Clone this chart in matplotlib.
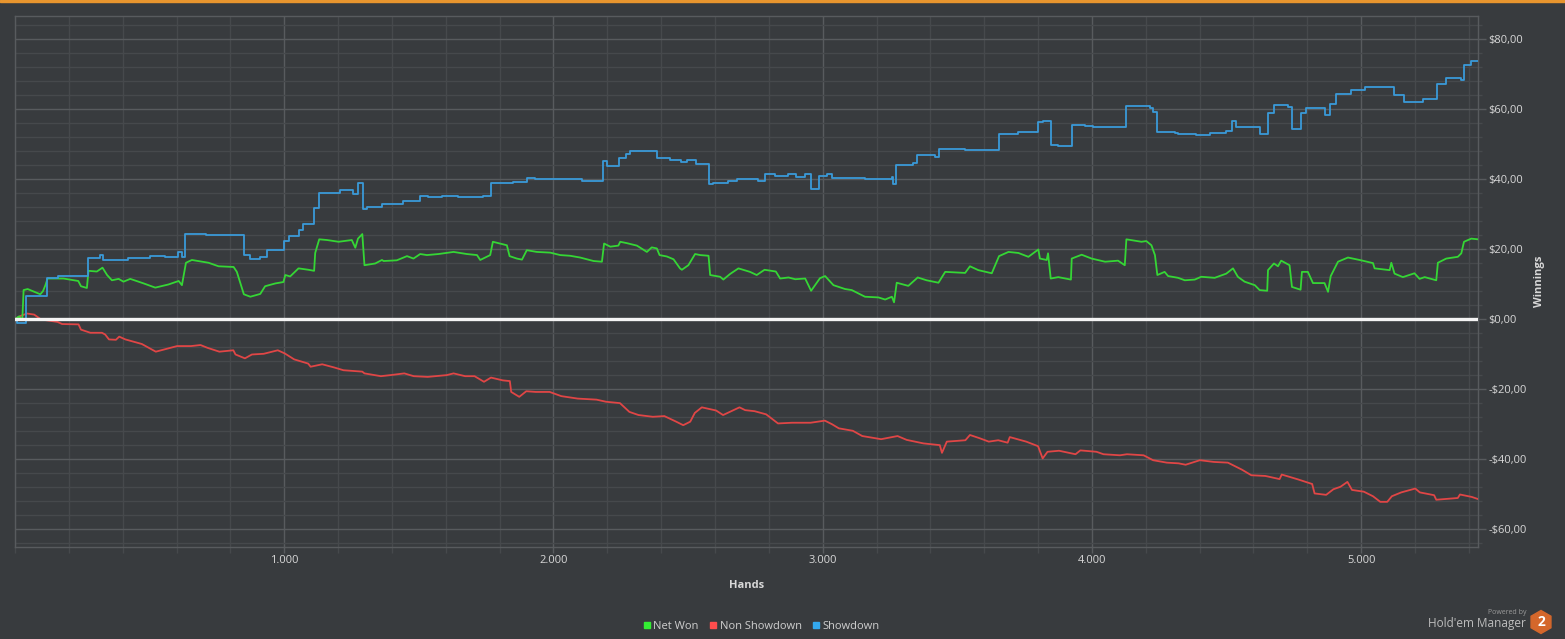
"""Hold'em Manager style winnings graph"""
import matplotlib
matplotlib.use("Agg")
import matplotlib.pyplot as plt
from matplotlib.ticker import FixedLocator, MultipleLocator, FuncFormatter
from matplotlib.lines import Line2D
from matplotlib.patches import RegularPolygon, Rectangle

plt.rcParams["font.family"] = ["Open Sans", "DejaVu Sans"]

# ---- data: hands played vs winnings ($) ----
showdown_hands = [0, 9, 42, 120, 161, 272, 317, 328, 421, 502, 558, 607, 620, 632, 709,
                  850, 874, 911, 936, 999, 1019, 1056, 1071, 1111, 1130, 1208, 1256, 1274,
                  1294, 1308, 1363, 1442, 1505, 1535, 1586, 1646, 1739, 1769, 1850, 1901,
                  1932, 2105, 2183, 2198, 2244, 2270, 2285, 2384, 2433, 2474, 2496, 2530,
                  2579, 2593, 2649, 2681, 2759, 2784, 2823, 2872, 2900, 2935, 2957, 2987,
                  3015, 3036, 3157, 3258, 3261, 3271, 3335, 3352, 3417, 3433, 3529, 3655,
                  3727, 3801, 3818, 3847, 3873, 3925, 3974, 4004, 4128, 4215, 4227, 4243,
                  4307, 4320, 4388, 4437, 4499, 4521, 4536, 4623, 4654, 4675, 4728, 4743,
                  4775, 4794, 4867, 4885, 4908, 4963, 5013, 5122, 5158, 5230, 5283, 5316,
                  5370, 5382, 5407, 5434]
showdown_won = [0, -1, 6.7, 11.8, 12.4, 17.6, 18.2, 16.9, 17.5, 18, 17.8, 19.1, 17.8, 24.2,
                23.9, 18.2, 17.2, 17.7, 19.7, 22.3, 23.7, 25.6, 27.1, 31.8, 35.9, 37.0,
                35.7, 38.8, 31.6, 32.0, 32.9, 33.7, 35.1, 34.8, 35.1, 34.8, 35.1, 39.0,
                39.2, 40.2, 39.9, 39.6, 45.1, 43.7, 46.1, 47.3, 47.9, 45.9, 45.6, 44.8,
                45.6, 44.3, 38.6, 39.0, 39.5, 39.9, 39.4, 41.4, 41.0, 41.4, 40.7, 41.4,
                37.3, 41.0, 41.4, 40.2, 39.9, 40.5, 38.6, 43.9, 44.7, 46.8, 46.2, 48.5,
                48.2, 53.0, 53.5, 56.2, 56.7, 49.7, 49.4, 55.5, 55.1, 54.8, 60.8, 60.3,
                59.1, 53.4, 53.1, 52.8, 52.5, 53.1, 53.8, 56.5, 54.8, 52.8, 58.8, 61.1,
                60.6, 54.4, 58.8, 60.2, 58.2, 61.6, 64.3, 65.6, 66.2, 64.0, 61.9, 62.8,
                67.3, 68.8, 68.3, 72.6, 73.8, 73.8]

net_hands = [0, 15, 27, 32, 47, 94, 104, 113, 121, 180, 235, 245, 267, 273, 304, 325, 342,
             360, 385, 403, 428, 478, 521, 570, 608, 620, 635, 657, 719, 756, 812, 824,
             850, 874, 911, 929, 967, 997, 1004, 1022, 1053, 1090, 1111, 1115, 1130, 1159,
             1202, 1251, 1264, 1274, 1290, 1298, 1338, 1363, 1369, 1418, 1456, 1480,
             1505, 1530, 1573, 1629, 1678, 1716, 1728, 1765, 1775, 1796, 1827, 1837,
             1864, 1883, 1901, 1938, 1988, 2025, 2062, 2099, 2149, 2180, 2188, 2211,
             2241, 2248, 2273, 2310, 2347, 2365, 2384, 2394, 2421, 2446, 2470, 2477,
             2501, 2526, 2545, 2576, 2582, 2619, 2631, 2656, 2687, 2730, 2755, 2784,
             2826, 2842, 2873, 2898, 2935, 2957, 2990, 3009, 3040, 3083, 3108, 3157,
             3207, 3232, 3257, 3265, 3275, 3318, 3353, 3386, 3430, 3455, 3529, 3547,
             3578, 3628, 3655, 3690, 3727, 3764, 3801, 3807, 3832, 3837, 3847, 3875,
             3922, 3925, 3962, 3999, 4049, 4097, 4122, 4128, 4184, 4202, 4221, 4234,
             4243, 4270, 4283, 4320, 4345, 4382, 4406, 4456, 4499, 4524, 4542, 4567,
             4605, 4623, 4651, 4654, 4676, 4691, 4703, 4734, 4743, 4775, 4780, 4802,
             4821, 4864, 4877, 4887, 4914, 4951, 5000, 5044, 5050, 5106, 5112, 5124,
             5155, 5198, 5217, 5236, 5279, 5285, 5316, 5359, 5372, 5382, 5409, 5434]
net_won = [0, 0.8, -0.3, 8.3, 8.6, 7.1, 8.0, 9.7, 11.6, 11.6, 10.9, 9.4, 8.9, 13.8, 13.6,
           14.7, 12.6, 11.1, 11.5, 10.7, 11.5, 10.2, 9.0, 9.9, 10.9, 9.7, 16.1, 16.9,
           16.1, 15.1, 14.9, 13.5, 7.1, 6.4, 7.2, 9.4, 10.2, 10.6, 12.6, 12.2, 14.5, 14.1,
           13.8, 18.9, 22.8, 22.6, 22.1, 22.6, 20.4, 23.0, 24.3, 15.4, 15.9, 16.9, 16.6,
           16.8, 18.0, 17.3, 18.6, 18.3, 18.6, 19.2, 18.6, 18.3, 16.9, 18.3, 22.1, 21.7,
           21.1, 18.0, 17.3, 17.0, 19.7, 19.2, 19.0, 18.3, 18.1, 17.6, 16.6, 16.4, 21.6,
           20.7, 21.0, 22.1, 21.7, 21.0, 19.2, 20.5, 20.2, 18.3, 17.9, 17.1, 14.5, 14.1,
           15.4, 18.6, 18.3, 18.1, 12.6, 12.1, 11.3, 12.9, 14.5, 13.5, 12.6, 14.1, 13.6,
           11.6, 11.9, 11.4, 11.6, 8.1, 11.7, 12.3, 9.7, 8.6, 8.3, 6.4, 6.2, 5.6, 6.4,
           4.8, 10.4, 9.5, 11.9, 11.1, 10.4, 13.5, 13.2, 15.1, 14.0, 13.1, 18.0, 19.2,
           18.9, 17.8, 19.9, 17.3, 16.9, 18.8, 11.6, 12.0, 11.3, 17.3, 18.4, 17.3, 16.4,
           16.7, 15.4, 22.8, 22.1, 22.3, 21.1, 18.3, 12.6, 13.5, 12.3, 11.8, 11.1, 11.3,
           12.1, 11.8, 13.0, 14.5, 12.1, 10.7, 9.7, 8.3, 8.1, 14.0, 15.9, 15.1, 16.7,
           15.4, 9.2, 8.4, 13.5, 13.5, 10.3, 10.3, 7.8, 12.3, 16.4, 17.6, 16.8, 16.0,
           14.5, 14.0, 16.1, 13.0, 12.0, 13.1, 11.5, 12.0, 11.1, 16.1, 17.3, 17.8, 18.8,
           22.1, 23.0, 22.8]

nonsd_hands = [0, 20, 45, 71, 97, 158, 175, 236, 245, 280, 323, 335, 349, 375, 387, 410,
               471, 523, 558, 602, 654, 689, 715, 759, 811, 819, 854, 880, 924, 976, 1002,
               1037, 1089, 1098, 1141, 1185, 1220, 1290, 1298, 1359, 1394, 1446, 1481,
               1533, 1603, 1629, 1672, 1707, 1742, 1768, 1812, 1838, 1843, 1873, 1899,
               1934, 1986, 2029, 2090, 2160, 2195, 2247, 2282, 2316, 2369, 2412, 2456,
               2482, 2508, 2525, 2551, 2604, 2630, 2691, 2712, 2747, 2790, 2834, 2886,
               2955, 3008, 3034, 3060, 3112, 3147, 3217, 3278, 3312, 3374, 3435, 3443,
               3461, 3530, 3547, 3582, 3617, 3652, 3687, 3695, 3756, 3800, 3817, 3835,
               3878, 3939, 3957, 4017, 4043, 4104, 4130, 4192, 4227, 4278, 4322, 4348,
               4401, 4453, 4505, 4557, 4592, 4644, 4697, 4705, 4766, 4818, 4827, 4870,
               4897, 4923, 4949, 4966, 5010, 5044, 5071, 5097, 5114, 5149, 5201, 5218,
               5271, 5279, 5359, 5367, 5411, 5434]
nonsd_won = [0.0, 0.9, 1.6, 1.3, -0.1, -0.8, -1.4, -1.5, -3.0, -3.9, -3.9, -4.4, -5.8, -5.9,
             -5.0, -5.8, -7.1, -9.3, -8.6, -7.7, -7.7, -7.4, -8.2, -9.3, -8.9, -10.1,
             -11.2, -10.1, -9.9, -8.9, -9.8, -11.5, -12.7, -13.6, -12.9, -13.8, -14.6,
             -15.0, -15.5, -16.3, -16.0, -15.5, -16.3, -16.5, -16.0, -15.5, -16.3, -16.3,
             -17.9, -16.7, -17.5, -17.7, -20.8, -22.2, -20.6, -20.8, -20.8, -22.0, -22.7,
             -23.0, -23.6, -24.0, -26.5, -27.4, -27.9, -27.7, -29.3, -30.3, -29.3, -26.8,
             -25.2, -26.1, -27.4, -25.2, -26.0, -26.3, -27.2, -29.8, -29.6, -29.6, -29.0,
             -30.0, -31.2, -31.9, -33.4, -34.3, -33.4, -34.5, -35.5, -36.0, -38.2, -35.0,
             -34.6, -33.1, -34.0, -35.0, -34.6, -35.3, -33.7, -35.0, -36.3, -39.8, -37.9,
             -37.6, -38.6, -37.5, -37.9, -38.6, -38.9, -38.6, -38.9, -40.3, -41.0, -41.2,
             -41.6, -40.3, -40.8, -41.0, -43.0, -44.6, -44.8, -45.7, -44.4, -45.8, -47.1,
             -49.8, -50.2, -48.6, -47.9, -46.5, -48.8, -49.3, -50.6, -52.2, -52.2, -50.6,
             -49.5, -48.4, -49.5, -50.3, -51.6, -51.1, -50.1, -50.8, -51.4]

series_names = ["Net Won", "Non Showdown", "Showdown"]
series_colors = ["#35d635", "#e04646", "#3a9ad8"]
legend_colors = ["#33ee33", "#ff4d4d", "#33a8ee"]

BG = "#383b3e"
GRID_MAJOR = "#585b5e"
GRID_MINOR = "#46494c"
TEXT = "#d8d8d8"

fig = plt.figure(figsize=(15.65, 6.39), dpi=100, facecolor=BG)
ax = fig.add_axes([15 / 1565, 92 / 639, 1463 / 1565, 531 / 639])
ax.set_facecolor(BG)

ax.plot(nonsd_hands, nonsd_won, color=series_colors[1], lw=1.3, zorder=3)
ax.plot(net_hands, net_won, color=series_colors[0], lw=1.3, zorder=4)
ax.plot(showdown_hands, showdown_won, color=series_colors[2], lw=1.3,
        drawstyle="steps-post", zorder=5)
ax.axhline(0, color="#f4f4f4", lw=2.4, zorder=6)

ax.set_xlim(0, 5434)
ax.set_ylim(-65.1, 86.6)

ax.xaxis.set_major_locator(FixedLocator([1000, 2000, 3000, 4000, 5000]))
ax.xaxis.set_minor_locator(MultipleLocator(200))
ax.yaxis.set_major_locator(MultipleLocator(20))
ax.yaxis.set_minor_locator(MultipleLocator(4))
ax.xaxis.set_major_formatter(FuncFormatter(lambda v, p: f"{int(v):,}".replace(",", ".")))


def money(v, p):
    s = f"{abs(v):.2f}".replace(".", ",")
    return ("-$" if v < 0 else "$") + s


ax.yaxis.set_major_formatter(FuncFormatter(money))
ax.yaxis.tick_right()
ax.yaxis.set_label_position("right")

ax.grid(which="major", color=GRID_MAJOR, lw=1.0, zorder=0)
ax.grid(which="minor", color=GRID_MINOR, lw=1.0, zorder=0)
ax.set_axisbelow(True)
for sp in ax.spines.values():
    sp.set_color(GRID_MAJOR)
    sp.set_linewidth(1.0)

ax.tick_params(axis="y", which="major", length=6, width=1, color=GRID_MAJOR,
               labelcolor=TEXT, labelsize=8, pad=1.5)
ax.tick_params(axis="y", which="minor", length=3, width=1, color=GRID_MINOR)
ax.tick_params(axis="x", which="both", length=4, width=1, color=GRID_MAJOR,
               labelcolor=TEXT, labelsize=8, pad=2)
ax.tick_params(axis="x", which="minor", color=GRID_MINOR)

ax.set_xlabel("Hands", color=TEXT, fontsize=8, fontweight="bold", labelpad=10)
ax.set_ylabel("Winnings", color=TEXT, fontsize=8, fontweight="bold", labelpad=5)

handles = [Line2D([], [], ls="none", marker="s", ms=5, mfc=c, mec=c) for c in legend_colors]
fig.legend(handles, series_names, loc="lower center", bbox_to_anchor=(0.486, -0.005),
           ncol=3, frameon=False, fontsize=8, labelcolor="#cfcfcf",
           handletextpad=0.1, columnspacing=0.8, handlelength=1.0)

# top orange strip
fig.patches.append(Rectangle((0, 1 - 2 / 639), 1, 2 / 639, transform=fig.transFigure,
                             color="#e8952e", zorder=10))

# "Powered by Hold'em Manager 2" badge
fig.text(1526 / 1565, 1 - 613 / 639, "Powered by", color="#9a9a9a", fontsize=5,
         ha="right", va="center")
fig.text(1526 / 1565, 1 - 624 / 639, "Hold'em Manager", color="#bdbdbd", fontsize=8.5,
         ha="right", va="center")
fig.patches.append(RegularPolygon((15.41, 0.17), numVertices=6, radius=0.115,
                                  orientation=0, transform=fig.dpi_scale_trans,
                                  color="#d4672b", zorder=10))
fig.text(15.41 / 15.65, 0.17 / 6.39, "2", color="white", fontsize=10, fontweight="bold",
         ha="center", va="center", zorder=11)

fig.savefig("out.png", dpi=100, facecolor=BG)
